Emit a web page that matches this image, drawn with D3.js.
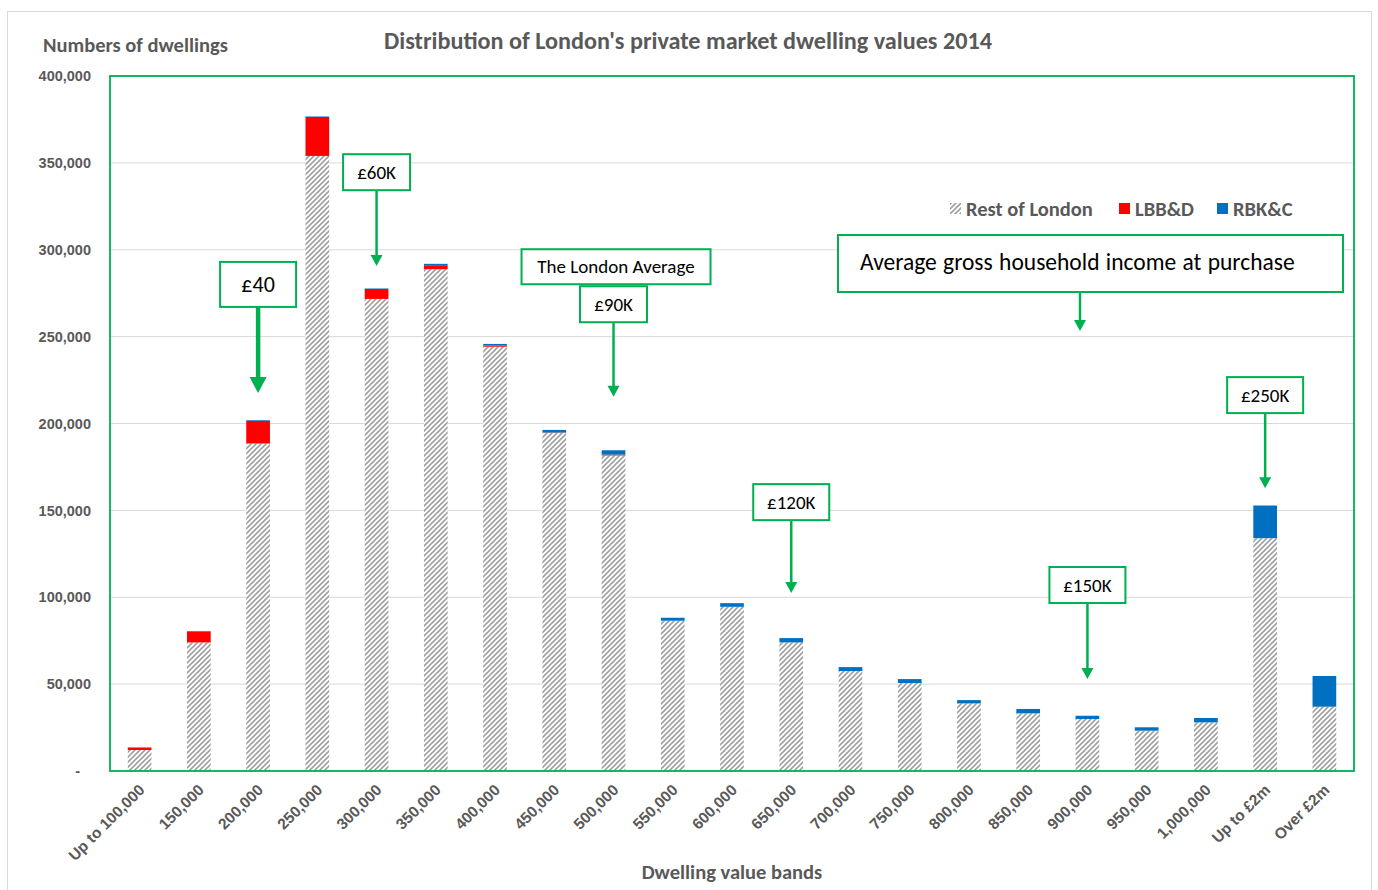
<!DOCTYPE html>
<html>
<head>
<meta charset="utf-8">
<script src="https://cdn.jsdelivr.net/npm/d3@7"></script>
<style>
    body { margin: 0; background: #fff; }
    svg { font-family: Calibri, Carlito, Lato, "Open Sans", sans-serif; }
</style>
</head>
<body>
<div id="chart"></div>
<script>
// Categorías de valor de vivienda
const categories = ["Up to 100,000", "150,000", "200,000", "250,000", "300,000", "350,000", "400,000",
    "450,000", "500,000", "550,000", "600,000", "650,000", "700,000", "750,000", "800,000", "850,000",
    "900,000", "950,000", "1,000,000", "Up to £2m", "Over £2m"];

// Series (número de viviendas)
const restOfLondon = [12100, 74000, 188500, 354000, 271700, 288800, 244200, 194600, 181600, 86500, 94500,
    74000, 57500, 50600, 38900, 33200, 29900, 23200, 28000, 134000, 37000];
const lbbd = [1200, 6300, 13000, 22400, 5700, 2300, 600, 200, 500, 0, 0,
    0, 0, 0, 0, 0, 0, 0, 0, 0, 0];
const rbkc = [300, 300, 400, 300, 300, 800, 1000, 1500, 2500, 1700, 2100,
    2500, 2300, 2300, 1900, 2500, 1900, 1950, 2500, 18800, 17700];

const yTicks = [0, 50000, 100000, 150000, 200000, 250000, 300000, 350000, 400000];

const seriesNames = ["Rest of London", "LBB&D", "RBK&C"];

// Anotaciones: etiqueta, categoría y valores (parte superior de la caja, punta de la flecha)
const callouts = [
    { label: "£40", category: "200,000", boxTop: 293000, tip: 217500, big: true },
    { label: "£60K", category: "300,000", boxTop: 355000, tip: 290700 },
    { label: "£90K", category: "500,000", boxTop: 279000, tip: 215400 },
    { label: "£120K", category: "650,000", boxTop: 165100, tip: 102400 },
    { label: "£150K", category: "900,000", boxTop: 117400, tip: 52900 },
    { label: "£250K", category: "Up to £2m", boxTop: 226700, tip: 162800 }
];

const width = 1378;
const height = 890;
const margin = { top: 76, right: 24, bottom: 119, left: 110 };
const green = "#00b050";
const textGray = "#595959";

const svg = d3.select("#chart").append("svg")
    .attr("width", width)
    .attr("height", height);

// Patrón rayado para "Rest of London"
const defs = svg.append("defs");
const pattern = defs.append("pattern")
    .attr("id", "hatch")
    .attr("patternUnits", "userSpaceOnUse")
    .attr("width", 5)
    .attr("height", 5);
pattern.append("rect").attr("width", 5).attr("height", 5).attr("fill", "#fff");
pattern.append("path")
    .attr("d", "M-1,1 l2,-2 M0,5 l5,-5 M4,6 l2,-2")
    .attr("stroke", "#a0a0a0")
    .attr("stroke-width", 1.6);

// Borde exterior del gráfico
svg.append("rect")
    .attr("x", 7.5).attr("y", 11.5)
    .attr("width", 1364).attr("height", 890)
    .attr("fill", "none")
    .attr("stroke", "#d9d9d9");

const x = d3.scaleBand()
    .domain(categories)
    .range([margin.left, width - margin.right])
    .paddingInner(0.6)
    .paddingOuter(0.3);

const y = d3.scaleLinear()
    .domain([0, 400000])
    .range([height - margin.bottom, margin.top]);

// Líneas de cuadrícula
svg.append("g")
    .selectAll("line")
    .data(yTicks.filter(d => d > 0))
    .enter().append("line")
    .attr("x1", margin.left).attr("x2", width - margin.right)
    .attr("y1", d => y(d)).attr("y2", d => y(d))
    .attr("stroke", "#d9d9d9")
    .attr("stroke-width", 1);

// Eje Y
const yAxis = d3.axisLeft(y)
    .tickValues(yTicks)
    .tickSize(0)
    .tickPadding(19)
    .tickFormat(d => d === 0 ? "-" : d3.format(",")(d));

const gy = svg.append("g")
    .attr("transform", `translate(${margin.left},0)`)
    .call(yAxis);
gy.select(".domain").remove();
gy.selectAll("text")
    .attr("fill", textGray)
    .attr("font-size", 14.5)
    .attr("font-weight", "bold");
gy.selectAll(".tick").filter(d => d === 0).select("text").attr("dx", -11);

// Eje X
const xAxis = d3.axisBottom(x).tickSize(0);
const gx = svg.append("g")
    .attr("transform", `translate(0,${height - margin.bottom})`)
    .call(xAxis);
gx.select(".domain").remove();
gx.selectAll("text")
    .attr("fill", textGray)
    .attr("font-size", 15.5)
    .attr("font-weight", "bold")
    .attr("text-anchor", "end")
    .attr("dy", null)
    .attr("y", 0)
    .attr("transform", "translate(6,20) rotate(-45)");

// Barras apiladas
const rows = categories.map((c, i) => ({
    category: c,
    "Rest of London": restOfLondon[i],
    "LBB&D": lbbd[i],
    "RBK&C": rbkc[i]
}));
const stacked = d3.stack().keys(seriesNames)(rows);
const fills = { "Rest of London": "url(#hatch)", "LBB&D": "#ff0000", "RBK&C": "#0070c0" };

svg.append("g")
    .selectAll("g")
    .data(stacked)
    .enter().append("g")
    .attr("fill", d => fills[d.key])
    .selectAll("rect")
    .data(d => d)
    .enter().append("rect")
    .attr("x", d => x(d.data.category))
    .attr("width", x.bandwidth())
    .attr("y", d => y(d[1]))
    .attr("height", d => Math.max(0, y(d[0]) - y(d[1])));

// Marco verde del área de trazado
svg.append("rect")
    .attr("x", margin.left).attr("y", margin.top)
    .attr("width", width - margin.left - margin.right)
    .attr("height", height - margin.top - margin.bottom)
    .attr("fill", "none")
    .attr("stroke", green)
    .attr("stroke-width", 1.8);

// Títulos
svg.append("text")
    .attr("x", 688).attr("y", 49)
    .attr("text-anchor", "middle")
    .attr("fill", textGray)
    .attr("font-size", 24.2)
    .attr("font-weight", "bold")
    .text("Distribution of London's private market dwelling values 2014");

svg.append("text")
    .attr("x", 43).attr("y", 52)
    .attr("fill", textGray)
    .attr("font-size", 20.5)
    .attr("font-weight", "bold")
    .text("Numbers of dwellings");

svg.append("text")
    .attr("x", (margin.left + width - margin.right) / 2).attr("y", 879)
    .attr("text-anchor", "middle")
    .attr("fill", textGray)
    .attr("font-size", 20.5)
    .attr("font-weight", "bold")
    .text("Dwelling value bands");

// Leyenda
const legend = svg.append("g").attr("transform", "translate(950,209)");
const legendItems = [
    { name: "Rest of London", x: 0 },
    { name: "LBB&D", x: 169 },
    { name: "RBK&C", x: 267 }
];
legendItems.forEach(item => {
    const g = legend.append("g").attr("transform", `translate(${item.x},0)`);
    g.append("rect")
        .attr("x", 0).attr("y", -6)
        .attr("width", 11).attr("height", 11)
        .attr("fill", fills[item.name]);
    g.append("text")
        .attr("x", 16).attr("y", 7)
        .attr("fill", textGray)
        .attr("font-size", 20.5)
        .attr("font-weight", "bold")
        .text(item.name);
});

// Flecha con punta triangular
function drawArrow(cx, y0, y1, thick) {
    const headW = thick ? 8.5 : 6;
    const headH = thick ? 16 : 11;
    svg.append("line")
        .attr("x1", cx).attr("x2", cx)
        .attr("y1", y0).attr("y2", y1 - headH + 1)
        .attr("stroke", green)
        .attr("stroke-width", thick ? 4.5 : 2.5);
    svg.append("path")
        .attr("d", `M${cx - headW},${y1 - headH} L${cx + headW},${y1 - headH} L${cx},${y1} Z`)
        .attr("fill", green);
}

function drawBox(x0, y0, w, h, label, fontSize) {
    svg.append("rect")
        .attr("x", x0).attr("y", y0)
        .attr("width", w).attr("height", h)
        .attr("fill", "#fff")
        .attr("stroke", green)
        .attr("stroke-width", 2);
    svg.append("text")
        .attr("x", x0 + w / 2).attr("y", y0 + h / 2)
        .attr("dy", "0.35em")
        .attr("text-anchor", "middle")
        .attr("fill", "#000")
        .attr("font-size", fontSize)
        .text(label);
}

// Caja "The London Average" (sobre la banda de 500,000)
const avgCx = x("500,000") + x.bandwidth() / 2;
drawBox(avgCx - 92, y(279000) - 37, 189, 35, "The London Average", 19);

callouts.forEach(c => {
    const cx = x(c.category) + x.bandwidth() / 2;
    const w = c.big ? 76 : (c.label.length > 4 ? 76 : 67);
    const h = c.big ? 45 : 36;
    const top = y(c.boxTop);
    drawArrow(cx, top + h, y(c.tip), c.big);
    drawBox(cx - w / 2, top, w, h, c.label, c.big ? 22 : 19);
});

// Caja de ingreso medio
drawArrow(1080, 293, 331, false);
svg.append("rect")
    .attr("x", 838).attr("y", 235)
    .attr("width", 505).attr("height", 57)
    .attr("fill", "#fff")
    .attr("stroke", green)
    .attr("stroke-width", 2);
svg.append("text")
    .attr("x", 860).attr("y", 270)
    .attr("fill", "#000")
    .attr("font-size", 23.5)
    .attr("word-spacing", 1)
    .text("Average gross household income at purchase");
</script>
</body>
</html>
